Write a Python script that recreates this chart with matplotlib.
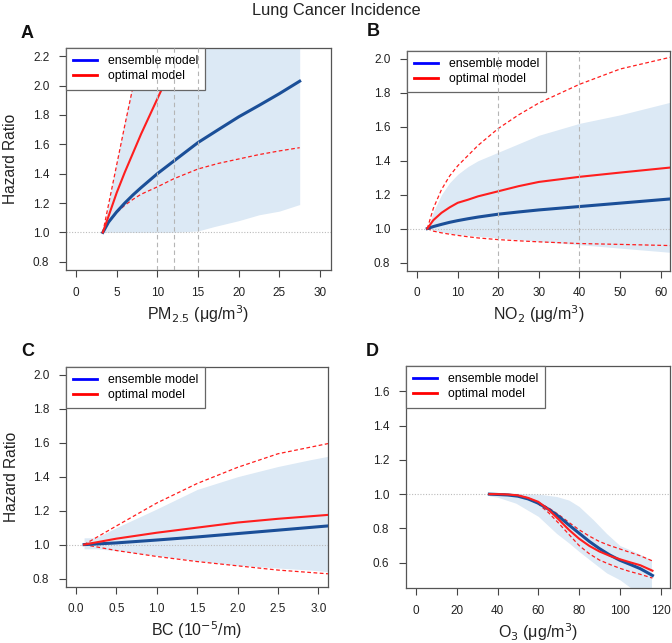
import numpy as np
import matplotlib.pyplot as plt

plt.rcParams['font.family'] = ['Liberation Sans', 'DejaVu Sans']

# ---- Panel A: PM2.5 ----
pm_x = [3.3, 4, 5, 6, 7, 8, 10, 12, 15, 17.5, 20, 22.5, 25, 27.5]
pm_ens = [1.0, 1.07, 1.14, 1.20, 1.255, 1.305, 1.40, 1.485, 1.612, 1.70, 1.787, 1.865, 1.945, 2.03]
pm_lo = [1.0, 1.07, 1.135, 1.185, 1.225, 1.26, 1.31, 1.365, 1.432, 1.47, 1.50, 1.53, 1.555, 1.577]
pm_opt_x = [3.3, 4, 5, 6, 7, 8, 9, 10, 11, 12]
pm_opt = [1.0, 1.11, 1.27, 1.41, 1.54, 1.67, 1.79, 1.91, 2.03, 2.15]
pm_up_x = [3.3, 4, 5, 6, 7, 8]
pm_up = [1.0, 1.19, 1.46, 1.73, 1.99, 2.25]
pm_band_x = [3.3, 4, 5, 6, 7, 7.7, 10, 12, 15, 17, 20, 22.5, 25, 27.5]
pm_band_lo = [1.0, 1.0, 1.0, 1.0, 1.0, 1.0, 1.0, 1.0, 1.01, 1.04, 1.08, 1.12, 1.145, 1.19]
pm_band_hi = [1.0, 1.2, 1.48, 1.76, 2.03, 2.3, 2.3, 2.3, 2.3, 2.3, 2.3, 2.3, 2.3, 2.3]

# ---- Panel B: NO2 ----
no2_x = [2.5, 4, 6, 8, 10, 12.5, 15, 20, 25, 30, 40, 50, 62.5]
no2_ens = [1.0, 1.012, 1.025, 1.037, 1.047, 1.058, 1.068, 1.085, 1.098, 1.11, 1.13, 1.15, 1.175]
no2_opt = [1.0, 1.05, 1.093, 1.125, 1.152, 1.17, 1.19, 1.22, 1.25, 1.275, 1.305, 1.33, 1.36]
no2_up = [1.0, 1.12, 1.23, 1.31, 1.37, 1.43, 1.49, 1.59, 1.67, 1.74, 1.85, 1.94, 2.01]
no2_lo = [1.0, 0.985, 0.975, 0.967, 0.96, 0.952, 0.945, 0.935, 0.928, 0.922, 0.912, 0.907, 0.90]
no2_band_hi = [1.0, 1.10, 1.20, 1.27, 1.32, 1.365, 1.40, 1.45, 1.50, 1.55, 1.62, 1.67, 1.745]
no2_band_lo = [1.0, 0.99, 0.98, 0.972, 0.965, 0.96, 0.955, 0.945, 0.935, 0.925, 0.905, 0.885, 0.86]

# ---- Panel C: BC ----
bc_x = [0.1, 0.5, 1.0, 1.5, 2.0, 2.5, 3.12]
bc_ens = [1.0, 1.01, 1.027, 1.045, 1.065, 1.085, 1.11]
bc_opt = [1.0, 1.035, 1.07, 1.10, 1.13, 1.152, 1.175]
bc_up = [1.0, 1.11, 1.245, 1.36, 1.455, 1.535, 1.595]
bc_lo = [1.0, 0.965, 0.93, 0.90, 0.875, 0.85, 0.828]
bc_band_x = [0.1, 0.25, 0.5, 1.0, 1.5, 2.0, 2.5, 2.9, 3.12]
bc_band_hi = [1.04, 1.04, 1.10, 1.21, 1.325, 1.40, 1.46, 1.50, 1.52]
bc_band_lo = [0.975, 0.975, 0.965, 0.935, 0.905, 0.878, 0.862, 0.85, 0.84]

# ---- Panel D: O3 ----
o3_x = [36, 40, 45, 50, 55, 60, 65, 70, 75, 80, 85, 90, 95, 100, 105, 110, 116]
o3_ens = [1.0, 0.998, 0.995, 0.988, 0.972, 0.947, 0.912, 0.87, 0.82, 0.772, 0.724, 0.682, 0.645, 0.614, 0.59, 0.565, 0.525]
o3_opt = [1.0, 1.0, 0.998, 0.993, 0.978, 0.955, 0.91, 0.852, 0.792, 0.74, 0.698, 0.665, 0.64, 0.62, 0.602, 0.585, 0.553]
o3_up = [1.0, 1.0, 0.998, 0.993, 0.976, 0.95, 0.92, 0.88, 0.835, 0.792, 0.755, 0.723, 0.70, 0.68, 0.66, 0.64, 0.61]
o3_lo = [1.0, 1.0, 0.997, 0.99, 0.972, 0.943, 0.892, 0.83, 0.765, 0.70, 0.652, 0.615, 0.59, 0.567, 0.548, 0.532, 0.51]
o3_band_x = [36, 40, 49, 60, 69, 75, 80, 87, 93.5, 100, 108, 115.5]
o3_band_hi = [1.01, 1.01, 1.005, 1.0, 0.986, 0.965, 0.928, 0.85, 0.77, 0.70, 0.66, 0.615]
o3_band_lo = [0.99, 0.982, 0.947, 0.87, 0.77, 0.715, 0.665, 0.60, 0.54, 0.50, 0.43, 0.40]

BLUE = '#1b4f98'
RED = '#ff1e1e'
BAND = '#dce9f5'
W, H = 672, 643


def px_axes(fig, left, top, right, bottom):
    return fig.add_axes([left / W, 1 - bottom / H, (right - left) / W, (bottom - top) / H])


def style(ax, xlim, ylim, xticks, yticks, xtl, ytl, xlabel, ylabel=None):
    ax.set_xlim(*xlim)
    ax.set_ylim(*ylim)
    ax.set_xticks(xticks)
    ax.set_xticklabels(xtl)
    ax.set_yticks(yticks)
    ax.set_yticklabels(ytl)
    ax.tick_params(direction='out', length=5, width=0.8, color='#444',
                   labelsize=8.5, labelcolor='#222', pad=7)
    for s in ax.spines.values():
        s.set_color('#555')
        s.set_linewidth(0.9)
    ax.set_xlabel(xlabel, fontsize=11.5, color='#222')
    ax.xaxis.set_label_coords(0.5, -0.15)
    if ylabel:
        ax.set_ylabel(ylabel, fontsize=11.2, color='#222')
        ax.yaxis.set_label_coords(-0.18, 0.5)
    ax.axhline(1.0, color='#bbbbbb', lw=0.8, ls=(0, (1, 1.5)), zorder=1)
    ax.plot([], [], color='#0000ff', lw=2, label='ensemble model')
    ax.plot([], [], color='#ff0000', lw=2, label='optimal model')
    leg = ax.legend(loc='upper left', bbox_to_anchor=(0, 1), borderaxespad=0,
                    fancybox=False, framealpha=1, edgecolor='#666', fontsize=8.8,
                    handlelength=1.9, handletextpad=0.9, labelspacing=0.25,
                    borderpad=0.6)
    leg.get_frame().set_linewidth(0.9)


def curves(ax, x, ens, opt, up, lo, band_x, band_lo, band_hi,
           opt_x=None, up_x=None, lo_x=None):
    ax.fill_between(band_x, band_lo, band_hi, color=BAND, lw=0, zorder=1)
    ax.plot(up_x or x, up, color=RED, lw=0.9, ls=(0, (3, 2)), zorder=3)
    ax.plot(lo_x or x, lo, color=RED, lw=0.9, ls=(0, (3, 2)), zorder=3)
    ax.plot(x, ens, color=BLUE, lw=2.2, zorder=3)
    ax.plot(opt_x or x, opt, color=RED, lw=1.5, zorder=4)


fig = plt.figure(figsize=(6.72, 6.43), dpi=100)
fig.text(0.5, 1 - 11 / H, 'Lung Cancer Incidence', ha='center', va='center',
         fontsize=11.8, color='#222')

# A
axA = px_axes(fig, 66, 48, 331, 270)
curves(axA, pm_x, pm_ens, pm_opt, pm_up, pm_lo, pm_band_x, pm_band_lo, pm_band_hi,
       opt_x=pm_opt_x, up_x=pm_up_x)
for v in [10, 12, 15]:
    axA.axvline(v, color='#b5b5b5', lw=0.8, ls=(0, (4, 3)), zorder=6)
style(axA, (-1.23, 31.35), (0.744, 2.256), range(0, 31, 5),
      np.arange(0.8, 2.21, 0.2), [str(v) for v in range(0, 31, 5)],
      ['%.1f' % v for v in np.arange(0.8, 2.21, 0.2)],
      'PM$_{2.5}$ (μg/m$^3$)', 'Hazard Ratio')

# B
axB = px_axes(fig, 407, 50.7, 670, 270.7)
curves(axB, no2_x, no2_ens, no2_opt, no2_up, no2_lo, no2_x, no2_band_lo, no2_band_hi)
for v in [20, 40]:
    axB.axvline(v, color='#b5b5b5', lw=0.8, ls=(0, (4, 3)), zorder=6)
style(axB, (-2.5, 62.3), (0.752, 2.048), range(0, 61, 10),
      np.arange(0.8, 2.01, 0.2), [str(v) for v in range(0, 61, 10)],
      ['%.1f' % v for v in np.arange(0.8, 2.01, 0.2)],
      'NO$_2$ (μg/m$^3$)')

# C
axC = px_axes(fig, 66, 366.7, 328, 586.7)
curves(axC, bc_x, bc_ens, bc_opt, bc_up, bc_lo, bc_band_x, bc_band_lo, bc_band_hi)
style(axC, (-0.124, 3.12), (0.752, 2.048), np.arange(0, 3.01, 0.5),
      np.arange(0.8, 2.01, 0.2), ['%.1f' % v for v in np.arange(0, 3.01, 0.5)],
      ['%.1f' % v for v in np.arange(0.8, 2.01, 0.2)],
      'BC (10$^{-5}$/m)', 'Hazard Ratio')

# D
axD = px_axes(fig, 406, 366, 670, 588)
curves(axD, o3_x, o3_ens, o3_opt, o3_up, o3_lo, o3_band_x, o3_band_lo, o3_band_hi)
style(axD, (-4.9, 124.6), (0.452, 1.748), range(0, 121, 20),
      np.arange(0.6, 1.61, 0.2), [str(v) for v in range(0, 121, 20)],
      ['%.1f' % v for v in np.arange(0.6, 1.61, 0.2)],
      'O$_3$ (μg/m$^3$)')

for lbl, x, y in [('A', 27, 34), ('B', 373, 31), ('C', 28, 351), ('D', 372, 351)]:
    fig.text(x / W, 1 - y / H, lbl, ha='center', va='center', fontsize=13,
             fontweight='bold', color='#111')

fig.savefig('out.png', dpi=100)
